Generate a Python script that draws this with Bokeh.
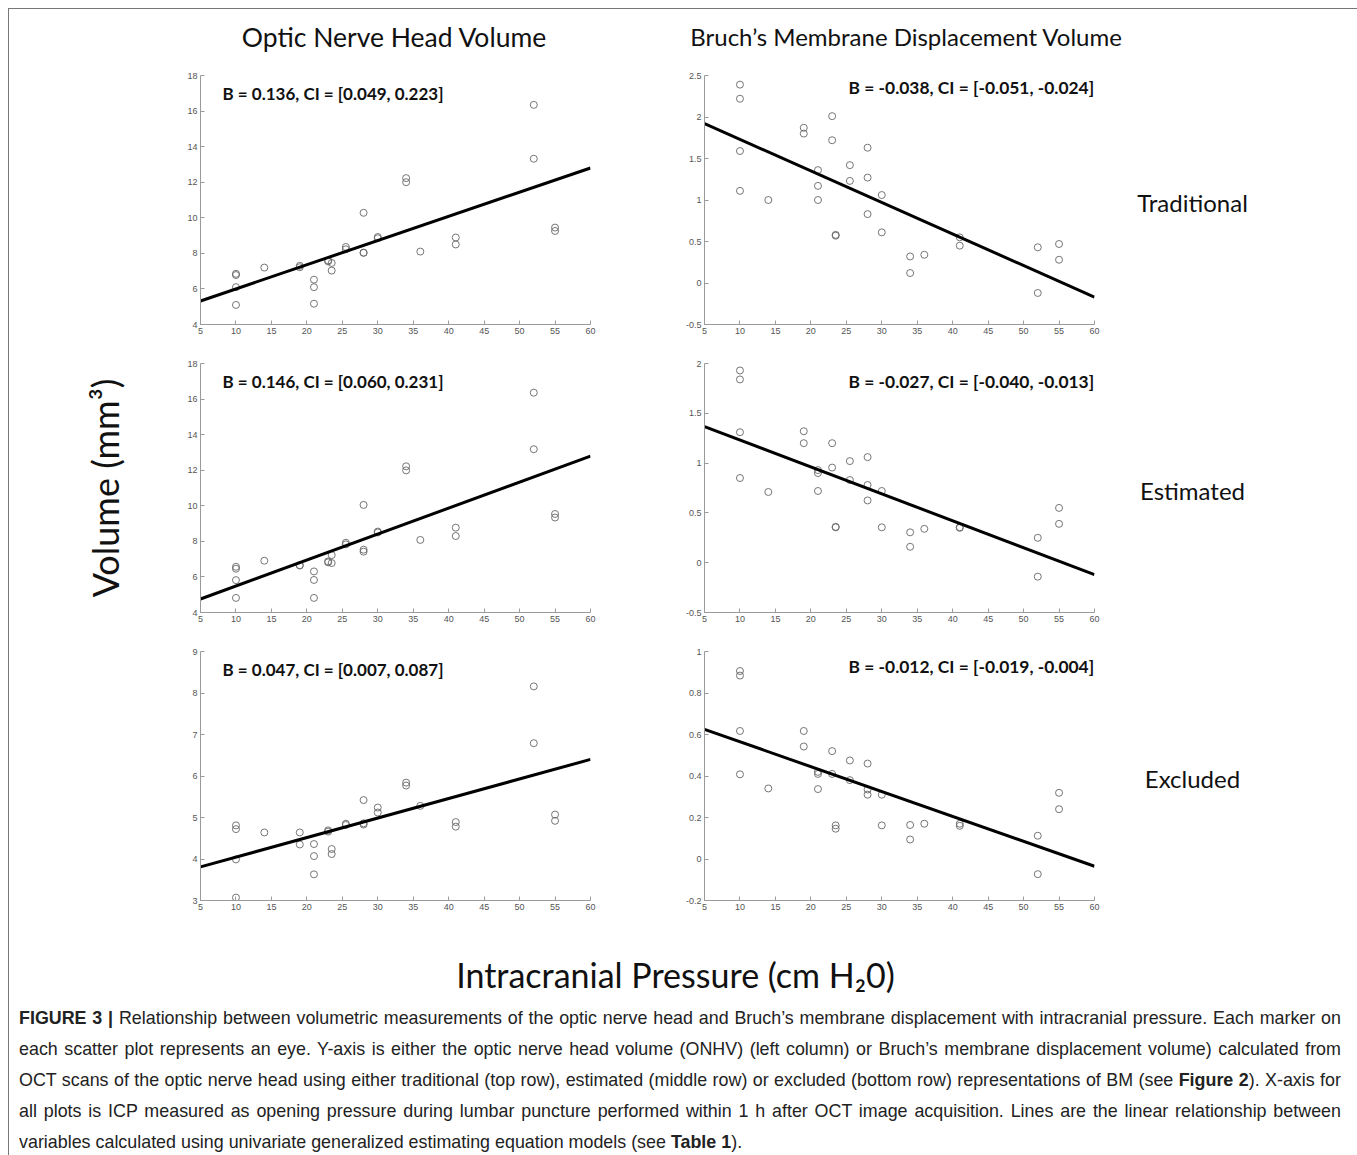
from bokeh.plotting import figure
from bokeh.models import Range1d, FixedTicker, Label, Div
from bokeh.layouts import column, row
from bokeh.embed import file_html
from bokeh.resources import INLINE

# ---------------- data ----------------
ICP = [10, 10, 10, 10, 14, 19, 19, 21, 21, 21, 23, 23, 23.5, 23.5, 25.5, 25.5,
       28, 28, 28, 30, 30, 34, 34, 36, 41, 41, 52, 52, 55, 55]

ONHV_TRAD = [6.85, 6.78, 6.10, 5.10, 7.20, 7.30, 7.22, 6.52, 6.10, 5.17, 7.60, 7.55,
             7.46, 7.03, 8.36, 8.23, 10.28, 8.04, 8.03, 8.92, 8.85, 12.23, 12.00,
             8.10, 8.89, 8.50, 16.35, 13.32, 9.45, 9.26]
BMDV_TRAD = [2.39, 2.22, 1.59, 1.11, 1.00, 1.87, 1.80, 1.36, 1.17, 1.00, 2.01, 1.72,
             0.58, 0.57, 1.42, 1.23, 1.63, 1.27, 0.83, 1.06, 0.61, 0.32, 0.12,
             0.34, 0.55, 0.45, 0.43, -0.12, 0.47, 0.28]
ONHV_EST = [6.57, 6.46, 5.82, 4.82, 6.91, 6.64, 6.66, 6.31, 5.83, 4.82, 6.87, 6.82,
            7.23, 6.78, 7.92, 7.83, 10.05, 7.53, 7.42, 8.55, 8.50, 12.22, 11.99,
            8.08, 8.77, 8.30, 16.36, 13.18, 9.54, 9.34]
BMDV_EST = [1.93, 1.84, 1.31, 0.85, 0.71, 1.32, 1.20, 0.93, 0.90, 0.72, 1.20, 0.955,
            0.36, 0.355, 1.02, 0.83, 1.06, 0.78, 0.625, 0.72, 0.355, 0.305, 0.16,
            0.34, 0.355, 0.35, 0.25, -0.14, 0.55, 0.39]
ONHV_EXC = [4.81, 4.72, 3.99, 3.07, 4.64, 4.64, 4.35, 4.36, 4.07, 3.63, 4.69, 4.66,
            4.24, 4.12, 4.85, 4.82, 5.42, 4.83, 4.86, 5.24, 5.12, 5.84, 5.77,
            5.28, 4.89, 4.78, 8.16, 6.79, 5.07, 4.92]
BMDV_EXC = [0.906, 0.884, 0.617, 0.408, 0.34, 0.617, 0.542, 0.42, 0.41, 0.337, 0.52, 0.41,
            0.162, 0.146, 0.475, 0.38, 0.46, 0.335, 0.31, 0.31, 0.162, 0.164, 0.094,
            0.17, 0.17, 0.16, 0.112, -0.073, 0.319, 0.24]

# regression lines: value at x = 5 and at x = 60
LINE_X = [5, 60]
LINE_ONHV_TRAD = [5.32, 12.80]
LINE_BMDV_TRAD = [1.92, -0.17]
LINE_ONHV_EST = [4.76, 12.79]
LINE_BMDV_EST = [1.366, -0.119]
LINE_ONHV_EXC = [3.81, 6.40]
LINE_BMDV_EXC = [0.625, -0.035]

ANN_ONHV_TRAD = "B = 0.136, CI = [0.049, 0.223]"
ANN_BMDV_TRAD = "B = -0.038, CI = [-0.051, -0.024]"
ANN_ONHV_EST = "B = 0.146, CI = [0.060, 0.231]"
ANN_BMDV_EST = "B = -0.027, CI = [-0.040, -0.013]"
ANN_ONHV_EXC = "B = 0.047, CI = [0.007, 0.087]"
ANN_BMDV_EXC = "B = -0.012, CI = [-0.019, -0.004]"

X_TICKS = [5, 10, 15, 20, 25, 30, 35, 40, 45, 50, 55, 60]
X_TICK_LABELS = ["5", "10", "15", "20", "25", "30", "35", "40", "45", "50", "55", "60"]
Y_TICKS_ONHV = [4, 6, 8, 10, 12, 14, 16, 18]
Y_LABELS_ONHV = ["4", "6", "8", "10", "12", "14", "16", "18"]
Y_TICKS_BMDV_TRAD = [-0.5, 0, 0.5, 1, 1.5, 2, 2.5]
Y_LABELS_BMDV_TRAD = ["-0.5", "0", "0.5", "1", "1.5", "2", "2.5"]
Y_TICKS_BMDV_EST = [-0.5, 0, 0.5, 1, 1.5, 2]
Y_LABELS_BMDV_EST = ["-0.5", "0", "0.5", "1", "1.5", "2"]
Y_TICKS_ONHV_EXC = [3, 4, 5, 6, 7, 8, 9]
Y_LABELS_ONHV_EXC = ["3", "4", "5", "6", "7", "8", "9"]
Y_TICKS_BMDV_EXC = [-0.2, 0, 0.2, 0.4, 0.6, 0.8, 1]
Y_LABELS_BMDV_EXC = ["-0.2", "0", "0.2", "0.4", "0.6", "0.8", "1"]

COL_TITLES = ["Optic Nerve Head Volume", "Bruch\u2019s Membrane Displacement Volume"]
ROW_LABELS = ["Traditional", "Estimated", "Excluded"]
Y_TITLE = "Volume (mm\u00b3)"
X_TITLE = "Intracranial Pressure (cm H\u20820)"

CAPTION_LINES = [
    "<b>FIGURE 3 |</b> Relationship between volumetric measurements of the optic nerve head and Bruch\u2019s membrane displacement with intracranial pressure. Each marker on",
    "each scatter plot represents an eye. Y-axis is either the optic nerve head volume (ONHV) (left column) or Bruch\u2019s membrane displacement volume) calculated from",
    "OCT scans of the optic nerve head using either traditional (top row), estimated (middle row) or excluded (bottom row) representations of BM (see <b>Figure 2</b>). X-axis for",
    "all plots is ICP measured as opening pressure during lumbar puncture performed within 1 h after OCT image acquisition. Lines are the linear relationship between",
    "variables calculated using univariate generalized estimating equation models (see <b>Table 1</b>).",
]

# ---------------- layout constants ----------------
TOTAL_W = 1341
ROW_H = 288
TOP_H = 57
XT_H = 68
CAP_H = 150
FONT = "Lato"
TICK_FONT = "Liberation Sans"


def panel(ys, line_y, ann, yr, yticks, ylabels, left, top_off_px, ytitle=None):
    if left:
        w, bl, br = 622, 192, 40
    else:
        w, bl, br = 474, 74, 10
    p = figure(width=w, height=ROW_H, x_range=Range1d(5, 60), y_range=Range1d(*yr),
               output_backend="svg", toolbar_location=None,
               min_border_left=bl, min_border_right=br, min_border_top=10, min_border_bottom=29)
    p.outline_line_color = None
    p.grid.visible = False
    p.background_fill_alpha = 0
    p.border_fill_alpha = 0
    p.xaxis.ticker = FixedTicker(ticks=X_TICKS)
    p.xaxis.major_label_overrides = dict(zip(X_TICKS, X_TICK_LABELS))
    p.yaxis.ticker = FixedTicker(ticks=yticks)
    p.yaxis.major_label_overrides = dict(zip(yticks, ylabels))
    for ax in (p.xaxis, p.yaxis):
        ax.axis_line_color = "#9a9a9a"
        ax.major_tick_line_color = "#9a9a9a"
        ax.major_tick_in = 4
        ax.major_tick_out = 0
        ax.minor_tick_line_color = None
        ax.major_label_text_font = TICK_FONT
        ax.major_label_text_font_size = "9px"
        ax.major_label_text_color = "#555555"
        ax.major_label_standoff = 3
    if ytitle:
        p.yaxis.axis_label = ytitle
        p.yaxis.axis_label_text_font = FONT
        p.yaxis.axis_label_text_font_size = "36px"
        p.yaxis.axis_label_text_font_style = "normal"
        p.yaxis.axis_label_text_color = "#111111"
        p.yaxis.axis_label_standoff = 57

    p.scatter(ICP, ys, marker="circle", size=7, fill_color=None,
              line_color="#666666", line_width=0.9)
    p.line(LINE_X, line_y, line_color="black", line_width=3)

    span = yr[1] - yr[0]
    ty = yr[1] - top_off_px / 249.0 * span
    if left:
        lab = Label(x=8.1, y=ty, text=ann, text_align="left", text_font_size="17px")
    else:
        lab = Label(x=59.95, y=ty, text=ann, text_align="right", text_font_size="17.4px")
    lab.text_baseline = "middle"
    lab.text_font = FONT
    lab.text_font_style = "bold"
    lab.text_color = "#111111"
    p.add_layout(lab)
    return p


def blank(w, h):
    f = figure(width=w, height=h, x_range=Range1d(0, w), y_range=Range1d(h, 0),
               output_backend="svg", toolbar_location=None, min_border=0,
               x_axis_type=None, y_axis_type=None)
    f.outline_line_color = None
    f.grid.visible = False
    f.background_fill_alpha = 0
    f.border_fill_alpha = 0
    return f


def row_label(text):
    f = blank(245, ROW_H)
    f.add_layout(Label(x=88, y=147, text=text, text_align="center", text_baseline="middle",
                       text_font=FONT, text_font_size="24px", text_color="#111111"))
    return f


top = blank(TOTAL_W, TOP_H)
top.add_layout(Label(x=386, y=28, text=COL_TITLES[0], text_align="center", text_baseline="middle",
                     text_font=FONT, text_font_size="26.5px", text_color="#111111"))
top.add_layout(Label(x=898, y=28, text=COL_TITLES[1], text_align="center", text_baseline="middle",
                     text_font=FONT, text_font_size="24px", text_color="#111111"))

r1 = row(panel(ONHV_TRAD, LINE_ONHV_TRAD, ANN_ONHV_TRAD, (4, 18), Y_TICKS_ONHV, Y_LABELS_ONHV, True, 18),
         panel(BMDV_TRAD, LINE_BMDV_TRAD, ANN_BMDV_TRAD, (-0.5, 2.5), Y_TICKS_BMDV_TRAD, Y_LABELS_BMDV_TRAD, False, 12),
         row_label(ROW_LABELS[0]))
r2 = row(panel(ONHV_EST, LINE_ONHV_EST, ANN_ONHV_EST, (4, 18), Y_TICKS_ONHV, Y_LABELS_ONHV, True, 18, Y_TITLE),
         panel(BMDV_EST, LINE_BMDV_EST, ANN_BMDV_EST, (-0.5, 2), Y_TICKS_BMDV_EST, Y_LABELS_BMDV_EST, False, 18),
         row_label(ROW_LABELS[1]))
r3 = row(panel(ONHV_EXC, LINE_ONHV_EXC, ANN_ONHV_EXC, (3, 9), Y_TICKS_ONHV_EXC, Y_LABELS_ONHV_EXC, True, 18),
         panel(BMDV_EXC, LINE_BMDV_EXC, ANN_BMDV_EXC, (-0.2, 1), Y_TICKS_BMDV_EXC, Y_LABELS_BMDV_EXC, False, 15),
         row_label(ROW_LABELS[2]))

xt = blank(TOTAL_W, XT_H)
xt.add_layout(Label(x=667, y=45, text=X_TITLE, text_align="center", text_baseline="middle",
                    text_font=FONT, text_font_size="34px", text_color="#111111"))

INNER_W = 1405
SCALE = 1322.0 / INNER_W
line_style = (f"width:{INNER_W}px;white-space:nowrap;text-align:justify;text-align-last:justify;"
              "height:31px;line-height:31px;")
last_style = f"width:{INNER_W}px;white-space:nowrap;text-align:left;height:31px;line-height:31px;"
inner = "".join(
    f'<div style="{line_style if i < len(CAPTION_LINES) - 1 else last_style}">{t}</div>'
    for i, t in enumerate(CAPTION_LINES))
html = (f'<div style="transform:scaleX({SCALE:.4f});transform-origin:0 0;width:{INNER_W}px;">'
        f'{inner}</div>')
cap = Div(text=html, width=TOTAL_W, height=CAP_H,
          styles={"font-family": "'Liberation Sans', Arial, sans-serif",
                  "font-size": "19px", "color": "#222222", "padding-left": "6px",
                  "box-sizing": "border-box", "overflow": "visible"})

layout = column(top, r1, r2, r3, xt, cap, margin=(8, 0, 0, 8),
                styles={"box-shadow": "inset 1px 1px 0 #777777, inset -1px 0 0 #777777"})

open("out.html", "w").write(file_html(layout, INLINE))
